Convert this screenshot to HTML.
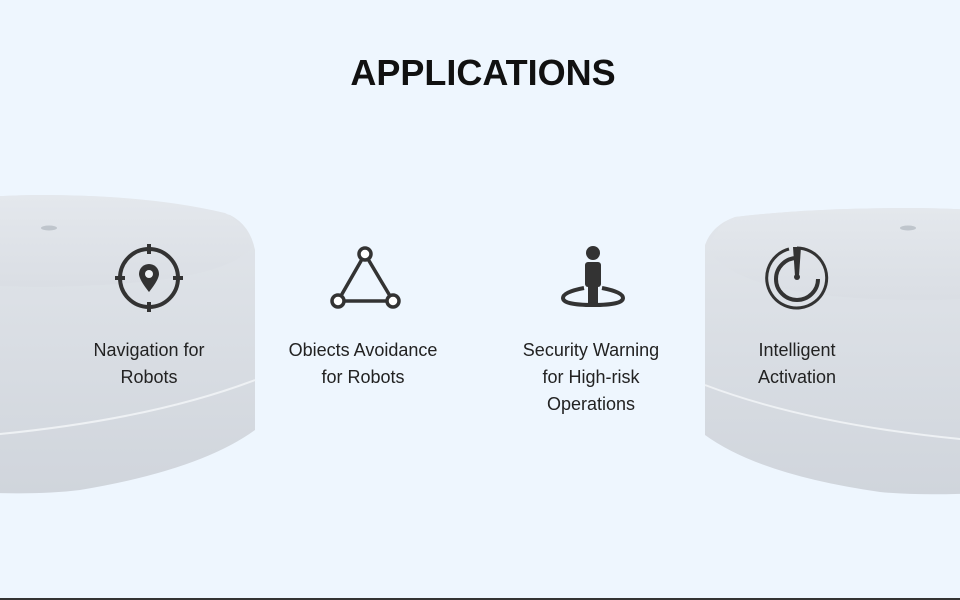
<!DOCTYPE html><html><head><style>
body{margin:0;width:960px;height:600px;overflow:hidden;background:#eef6fe;font-family:"Liberation Sans",sans-serif;position:relative}
.t{position:absolute;font-size:18px;color:#222;text-align:center;line-height:27px;width:200px}
</style></head><body>
<svg width="960" height="600" style="position:absolute;left:0;top:0">
<defs>
<linearGradient id="g" x1="0" x2="0" y1="0" y2="1"><stop offset="0" stop-color="#e2e6eb"/><stop offset="1" stop-color="#d0d5dc"/></linearGradient>
<linearGradient id="top" x1="0" x2="0" y1="0" y2="1"><stop offset="0" stop-color="#e4e8ed"/><stop offset="1" stop-color="#dadee4"/></linearGradient>
</defs>
<g>
<path d="M-160 240 L-160 480 Q0 500 80 490 Q200 470 255 430 L255 250 Q250 225 230 215 Q150 195 40 195 Q-160 198 -160 240Z" fill="url(#g)"/>
<path d="M-160 240 Q-150 285 40 287 Q220 285 252 248 Q245 222 225 213 Q150 195 40 195 Q-160 198 -160 240Z" fill="url(#top)"/>
<path d="M-10 435 Q150 420 255 380" stroke="#eef1f4" stroke-width="2" fill="none"/>
<ellipse cx="49" cy="228" rx="8" ry="2.5" fill="#bfc5cc"/>
</g>
<g>
<path d="M1120 255 L1120 480 Q960 500 880 492 Q760 475 705 435 L705 245 Q712 225 735 217 Q810 208 910 208 Q1120 210 1120 255Z" fill="url(#g)"/>
<path d="M1120 255 Q1110 300 910 300 Q740 298 708 250 Q715 225 735 217 Q810 208 910 208 Q1120 210 1120 255Z" fill="url(#top)"/>
<path d="M970 440 Q810 425 705 385" stroke="#eef1f4" stroke-width="2" fill="none"/>
<ellipse cx="908" cy="228" rx="8" ry="2.5" fill="#bfc5cc"/>
</g>
<g stroke="#333" fill="none" stroke-width="4">
<circle cx="149" cy="278" r="29"/>
<path d="M149 244v10M149 302v10M115 278h10M173 278h10"/>
</g>
<path d="M149 264a10 10 0 0 1 10 10c0 6-10 18-10 18s-10-12-10-18a10 10 0 0 1 10-10z" fill="#333"/>
<circle cx="149" cy="274" r="4" fill="#eef1f4"/>
<g stroke="#333" stroke-width="3.5" fill="#fff">
<path d="M365 254L338 301L393 301Z" fill="none"/>
<circle cx="365" cy="254" r="6"/><circle cx="338" cy="301" r="6"/><circle cx="393" cy="301" r="6"/>
</g>
<circle cx="593" cy="253" r="7" fill="#333"/>
<rect x="585" y="262" width="16" height="25" rx="3" fill="#333"/>
<rect x="588" y="282" width="10" height="22" fill="#333"/>
<path d="M584 288 Q563 292 563 298 Q563 305 593 305 Q623 305 623 298 Q623 292 602 288" stroke="#333" stroke-width="4" fill="none"/>
<g stroke="#333" fill="none">
<path d="M797 248 A30 30 0 1 1 789 249" stroke-width="3"/>
<path d="M797 258 A21 21 0 1 0 818 279" stroke-width="4"/>
</g>
<path d="M793 247 L801 247 L799 276 L795 276Z" fill="#333"/>
<circle cx="797" cy="277" r="3" fill="#333"/>
<rect x="0" y="598" width="960" height="2" fill="#333"/>
</svg>
<div style="position:absolute;top:52px;width:966px;text-align:center;font-size:36px;font-weight:bold;color:#111">APPLICATIONS</div>
<div class="t" style="left:49px;top:337px">Navigation for<br>Robots</div>
<div class="t" style="left:263px;top:337px">Obiects Avoidance<br>for Robots</div>
<div class="t" style="left:491px;top:337px">Security Warning<br>for High-risk<br>Operations</div>
<div class="t" style="left:697px;top:337px">Intelligent<br>Activation</div>
</body></html>
